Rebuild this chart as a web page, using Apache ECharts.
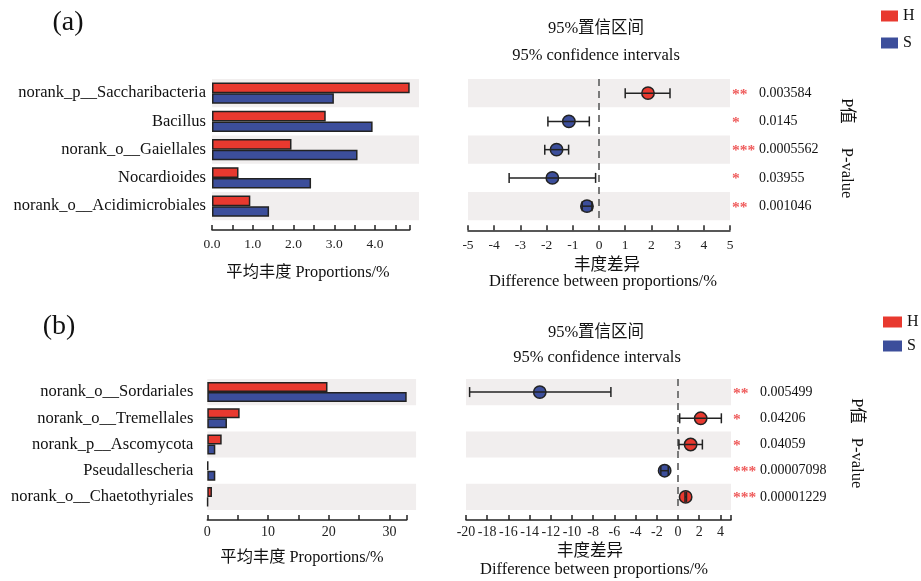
<!DOCTYPE html>
<html>
<head>
<meta charset="utf-8">
<script src="https://cdn.jsdelivr.net/npm/echarts@6/dist/echarts.min.js"></script>
<style>
  html, body { margin: 0; padding: 0; background: #ffffff; }
  #chart { width: 921px; height: 581px; }
</style>
</head>
<body>
<div id="chart"></div>
<script>
// Groups
const groups = ['H', 'S'];

// (a) bacterial taxa
const taxaA = ['norank_p__Saccharibacteria', 'Bacillus', 'norank_o__Gaiellales', 'Nocardioides', 'norank_o__Acidimicrobiales'];
const propHA = [4.85, 2.79, 1.95, 0.65, 0.94];
const propSA = [2.99, 3.94, 3.57, 2.43, 1.40];
const diffA = [1.87, -1.15, -1.62, -1.78, -0.46];
const lowA = [1.00, -1.95, -2.07, -3.43, -0.64];
const highA = [2.71, -0.37, -1.16, -0.13, -0.27];
const pValA = ['0.003584', '0.0145', '0.0005562', '0.03955', '0.001046'];
const starsA = ['**', '*', '***', '*', '**'];

// (b) fungal taxa
const taxaB = ['norank_o__Sordariales', 'norank_o__Tremellales', 'norank_p__Ascomycota', 'Pseudallescheria', 'norank_o__Chaetothyriales'];
const propHB = [19.8, 5.33, 2.37, 0.15, 0.77];
const propSB = [32.85, 3.24, 1.32, 1.32, 0.10];
const diffB = [-13.04, 2.14, 1.19, -1.26, 0.72];
const lowB = [-19.66, 0.16, 0.09, -1.62, 0.66];
const highB = [-6.33, 4.09, 2.30, -0.92, 0.80];
const pValB = ['0.005499', '0.04206', '0.04059', '0.00007098', '0.00001229'];
const starsB = ['**', '*', '*', '***', '***'];

// Axis ranges / tick steps
const ciRangeA = [-5, 5], ciStepA = 1;
const ciRangeB = [-20, 5], ciStepB = 2;
const propStepA = 0.5, propStepB = 5;

const RED = '#e8392f';
const BLUE = '#3c4e9b';
const BAND = '#f1eeee';
const STAR = '#ef5b5b';
const SERIF = '"Liberation Serif", "Times New Roman", "Noto Sans CJK SC", serif';
const BAND_EXT = 1.047; // shaded rows run a little past the end of the proportion axis

const chart = echarts.init(document.getElementById('chart'), null, { renderer: 'canvas' });

function barMax(h, s) { return Math.max(...h, ...s); }
const maxA = barMax(propHA, propSA);
const maxB = barMax(propHB, propSB);

function ciData(diff, low, high) {
  return diff.map((d, i) => [i, d, low[i], high[i]]);
}

// error bar with caps plus a circle for the mean difference
function renderCI(params, api) {
  const y = api.value(0);
  const d = api.value(1), lo = api.value(2), hi = api.value(3);
  const c = api.coord([d, y]);
  const pl = api.coord([lo, y]);
  const ph = api.coord([hi, y]);
  const cap = 5;
  const line = { stroke: '#222', lineWidth: 1.5 };
  return {
    type: 'group',
    children: [
      { type: 'circle', shape: { cx: c[0], cy: c[1], r: 6.2 }, style: { fill: d > 0 ? RED : BLUE, stroke: '#222', lineWidth: 1.5 } },
      { type: 'line', shape: { x1: pl[0], y1: pl[1], x2: ph[0], y2: ph[1] }, style: line },
      { type: 'line', shape: { x1: pl[0], y1: pl[1] - cap, x2: pl[0], y2: pl[1] + cap }, style: line },
      { type: 'line', shape: { x1: ph[0], y1: ph[1] - cap, x2: ph[0], y2: ph[1] + cap }, style: line }
    ]
  };
}

const axisLineStyle = { color: '#222', width: 1.5 };

function visibleX(gridIndex, min, max, step, margin, fmt, fontSize) {
  return {
    type: 'value', gridIndex, min, max, interval: step,
    axisLine: { show: true, onZero: false, lineStyle: axisLineStyle },
    axisTick: { show: true, inside: true, length: 5, lineStyle: axisLineStyle },
    axisLabel: { margin, fontFamily: SERIF, fontSize: fontSize || 13.5, color: '#222', formatter: fmt, showMinLabel: true, showMaxLabel: true },
    splitLine: { show: false }
  };
}

function hiddenX(gridIndex, min, max) {
  return { type: 'value', gridIndex, min, max, show: false, splitLine: { show: false } };
}

function bandY(gridIndex, data, showLabels, margin) {
  return {
    type: 'category', gridIndex, data, inverse: true,
    axisLine: { show: false }, axisTick: { show: false },
    axisLabel: { show: showLabels, margin, fontFamily: SERIF, fontSize: 16.5, color: '#111', align: 'right' },
    splitLine: { show: false },
    splitArea: { show: true, interval: 0, areaStyle: { color: [BAND, 'rgba(255,255,255,0)'] } }
  };
}

// significance stars and p-values listed to the right of each row;
// the star block has a fixed width so every p-value starts at the same x
function pValY(gridIndex, pv, stars) {
  return {
    type: 'category', gridIndex, data: pv.map((p, i) => stars[i] + '|' + p), inverse: true, position: 'right',
    axisLine: { show: false }, axisTick: { show: false }, splitLine: { show: false },
    axisLabel: {
      margin: 2, align: 'left',
      formatter: v => { const [s, p] = v.split('|'); return '{s|' + s + '}{v|' + p + '}'; },
      rich: {
        s: { width: 27, overflow: 'none', color: STAR, fontFamily: SERIF, fontSize: 15.5, fontWeight: 'bold', padding: [3, 0, 0, 0] },
        v: { fontFamily: SERIF, fontSize: 14, color: '#111' }
      }
    }
  };
}

function dummyY(gridIndex) {
  return { type: 'category', gridIndex, data: [''], show: false };
}

function barSeries(name, xIdx, yIdx, data, color, width) {
  return {
    name, type: 'bar', xAxisIndex: xIdx, yAxisIndex: yIdx, data,
    barWidth: width, barGap: '0%',
    itemStyle: { color, borderColor: '#222', borderWidth: 1.5 },
    silent: true
  };
}

function ciSeries(xIdx, yIdx, data) {
  return {
    type: 'custom', xAxisIndex: xIdx, yAxisIndex: yIdx, data, renderItem: renderCI,
    encode: { x: [1, 2, 3], y: 0 }, z: 5, silent: true,
    markLine: {
      silent: true, symbol: 'none', label: { show: false },
      lineStyle: { color: '#7a7a7a', type: [7, 5], width: 2 },
      data: [{ xAxis: 0 }]
    }
  };
}

function text(x, y, str, size) {
  return {
    type: 'text', x, y,
    style: { text: str, fontFamily: SERIF, fontSize: size, fill: '#111', textAlign: 'center', textVerticalAlign: 'middle' }
  };
}

function vtext(x, y, str, size) {
  return { type: 'text', x, y, rotation: -Math.PI / 2,
    style: { text: str, fontFamily: SERIF, fontSize: size, fill: '#111', textAlign: 'center', textVerticalAlign: 'middle' } };
}

const intLabel = v => (Math.abs(v - Math.round(v)) < 1e-6 ? v.toFixed(1) : '');
const tenLabel = v => (Math.abs(v % 10) < 1e-6 ? String(v) : '');
const ciLabelB = v => (Math.abs(v % 2) < 1e-6 ? String(v) : '');

const legendBase = {
  data: groups, orient: 'vertical', icon: 'rect', selectedMode: false, padding: 0,
  itemStyle: { borderWidth: 0 },
  textStyle: { fontFamily: SERIF, fontSize: 16, color: '#111' }
};

const option = {
  backgroundColor: '#ffffff',
  animation: false,
  grid: [
    { left: 212, top: 79, width: 197.7 * BAND_EXT, height: 141.3 },  // (a) bars
    { left: 212, top: 79, width: 197.7, height: 151 },                // (a) proportion axis
    { left: 468, top: 79, width: 262, height: 141.3 },               // (a) confidence intervals
    { left: 207.3, top: 379, width: 199.4 * BAND_EXT, height: 131 },  // (b) bars
    { left: 207.3, top: 379, width: 199.4, height: 141 },             // (b) proportion axis
    { left: 466, top: 379, width: 265, height: 131 }                 // (b) confidence intervals
  ],
  xAxis: [
    hiddenX(0, 0, maxA * BAND_EXT),
    visibleX(1, 0, maxA, propStepA, 8, intLabel),
    Object.assign(visibleX(2, ciRangeA[0], ciRangeA[1], ciStepA, 8), { offset: 10 }),
    hiddenX(3, 0, maxB * BAND_EXT),
    visibleX(4, 0, maxB, propStepB, 5, tenLabel, 14),
    Object.assign(visibleX(5, ciRangeB[0], ciRangeB[1], ciStepB, 5, ciLabelB, 14), { offset: 10 })
  ],
  yAxis: [
    bandY(0, taxaA, true, 6),
    dummyY(1),
    bandY(2, taxaA, false, 0),
    pValY(2, pValA, starsA),
    bandY(3, taxaB, true, 14),
    dummyY(4),
    bandY(5, taxaB, false, 0),
    pValY(5, pValB, starsB)
  ],
  legend: [
    Object.assign({ left: 881, top: 8, itemWidth: 17, itemHeight: 11, itemGap: 11 }, legendBase),
    Object.assign({ left: 883, top: 314, itemWidth: 19, itemHeight: 11, itemGap: 8 }, legendBase)
  ],
  series: [
    barSeries('H', 0, 0, propHA, RED, 10.7),
    barSeries('S', 0, 0, propSA, BLUE, 10.7),
    ciSeries(2, 2, ciData(diffA, lowA, highA)),
    barSeries('H', 3, 4, propHB, RED, 10),
    barSeries('S', 3, 4, propSB, BLUE, 10),
    ciSeries(5, 6, ciData(diffB, lowB, highB))
  ],
  graphic: [
    text(68, 23, '(a)', 28),
    text(59, 327, '(b)', 28),
    text(596, 29, '95%置信区间', 16.5),
    text(596, 56, '95% confidence intervals', 16.5),
    text(596, 333, '95%置信区间', 16.5),
    text(597, 358, '95% confidence intervals', 16.5),
    text(308, 273, '平均丰度 Proportions/%', 16.3),
    text(302, 558, '平均丰度 Proportions/%', 16.3),
    text(607, 266, '丰度差异', 16.5),
    text(603, 282, 'Difference between proportions/%', 16.5),
    text(590, 552, '丰度差异', 16.5),
    text(594, 570, 'Difference between proportions/%', 16.5),
    vtext(846, 111, 'P值', 16.5),
    vtext(846, 173, 'P-value', 16.5),
    vtext(856, 411, 'P值', 16.5),
    vtext(856, 463, 'P-value', 16.5)
  ]
};

chart.setOption(option);
</script>
</body>
</html>
